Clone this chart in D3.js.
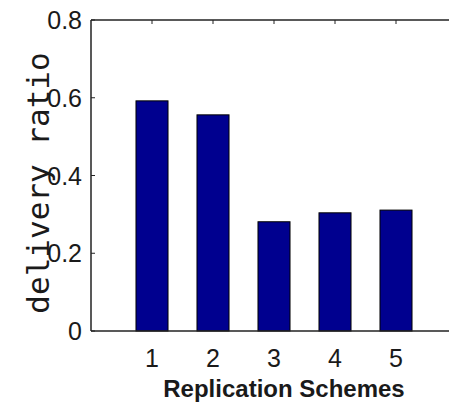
<!DOCTYPE html>
<html lang="en">
<head>
    <meta charset="UTF-8">
    <title>Delivery ratio by replication scheme</title>
    <script src="https://d3js.org/d3.v7.min.js"></script>
    <style>
        body {
            margin: 0;
            background-color: white;
        }
        .tick-label {
            font-family: Arial, "Liberation Sans", sans-serif;
            font-size: 25px;
            fill: #1a1a1a;
        }
        .y-title {
            font-family: "DejaVu Sans Mono", monospace;
            font-size: 31px;
            fill: #1a1a1a;
        }
        .x-title {
            font-family: Arial, "Liberation Sans", sans-serif;
            font-size: 24px;
            font-weight: bold;
            fill: #1a1a1a;
        }
    </style>
</head>
<body>
    <script>
        // values
        const schemes = [1, 2, 3, 4, 5];
        const deliveryRatio = [0.592, 0.556, 0.281, 0.304, 0.311];
        const yTicks = [0, 0.2, 0.4, 0.6, 0.8];

        const width = 449;
        const height = 407;
        const plot = {left: 91, top: 20, bottom: 331};

        const svg = d3.select("body").append("svg")
            .attr("width", width)
            .attr("height", height);

        // x axis runs 0..6 like matlab's bar(), right part is cut off
        const x = d3.scaleLinear().domain([0, 6]).range([plot.left, plot.left + 366]);
        const y = d3.scaleLinear().domain([0, 0.8]).range([plot.bottom, plot.top]);
        const barW = x(0.525) - x(0);

        // bars
        svg.selectAll(".bar")
            .data(schemes)
            .enter().append("rect")
            .attr("class", "bar")
            .attr("x", (d) => x(d) - barW / 2)
            .attr("y", (d, i) => y(deliveryRatio[i]))
            .attr("width", barW)
            .attr("height", (d, i) => y(0) - y(deliveryRatio[i]))
            .style("fill", "#00008f")
            .style("stroke", "#000")
            .style("stroke-width", 1);

        // box lines (left, top, bottom)
        const axisColor = "#222";
        svg.append("line")
            .attr("x1", plot.left).attr("x2", plot.left)
            .attr("y1", plot.top).attr("y2", plot.bottom)
            .style("stroke", axisColor).style("stroke-width", 1.5);
        svg.append("line")
            .attr("x1", plot.left).attr("x2", width)
            .attr("y1", plot.top).attr("y2", plot.top)
            .style("stroke", axisColor).style("stroke-width", 1.5);
        svg.append("line")
            .attr("x1", plot.left).attr("x2", width)
            .attr("y1", plot.bottom).attr("y2", plot.bottom)
            .style("stroke", axisColor).style("stroke-width", 1.5);

        // inward ticks
        svg.selectAll(".ytick")
            .data(yTicks)
            .enter().append("line")
            .attr("x1", plot.left).attr("x2", plot.left + 4)
            .attr("y1", (d) => y(d)).attr("y2", (d) => y(d))
            .style("stroke", axisColor);
        svg.selectAll(".xtick")
            .data(schemes)
            .enter().append("line")
            .attr("x1", (d) => x(d)).attr("x2", (d) => x(d))
            .attr("y1", plot.top).attr("y2", plot.top + 4)
            .style("stroke", axisColor);

        // tick labels
        svg.selectAll(".ylabel")
            .data(yTicks)
            .enter().append("text")
            .attr("class", "tick-label")
            .attr("x", plot.left - 9)
            .attr("y", (d) => y(d))
            .attr("dy", "0.36em")
            .style("text-anchor", "end")
            .text((d) => d === 0 ? "0" : d3.format(".1f")(d));

        svg.selectAll(".xlabel")
            .data(schemes)
            .enter().append("text")
            .attr("class", "tick-label")
            .attr("x", (d) => x(d))
            .attr("y", 367)
            .style("text-anchor", "middle")
            .text((d) => d);

        // titles
        svg.append("text")
            .attr("class", "x-title")
            .attr("x", 284)
            .attr("y", 397)
            .style("text-anchor", "middle")
            .text("Replication Schemes");

        svg.append("text")
            .attr("class", "y-title")
            .attr("transform", "translate(49,183)rotate(-90)")
            .style("text-anchor", "middle")
            .text("delivery ratio");
    </script>
</body>
</html>
